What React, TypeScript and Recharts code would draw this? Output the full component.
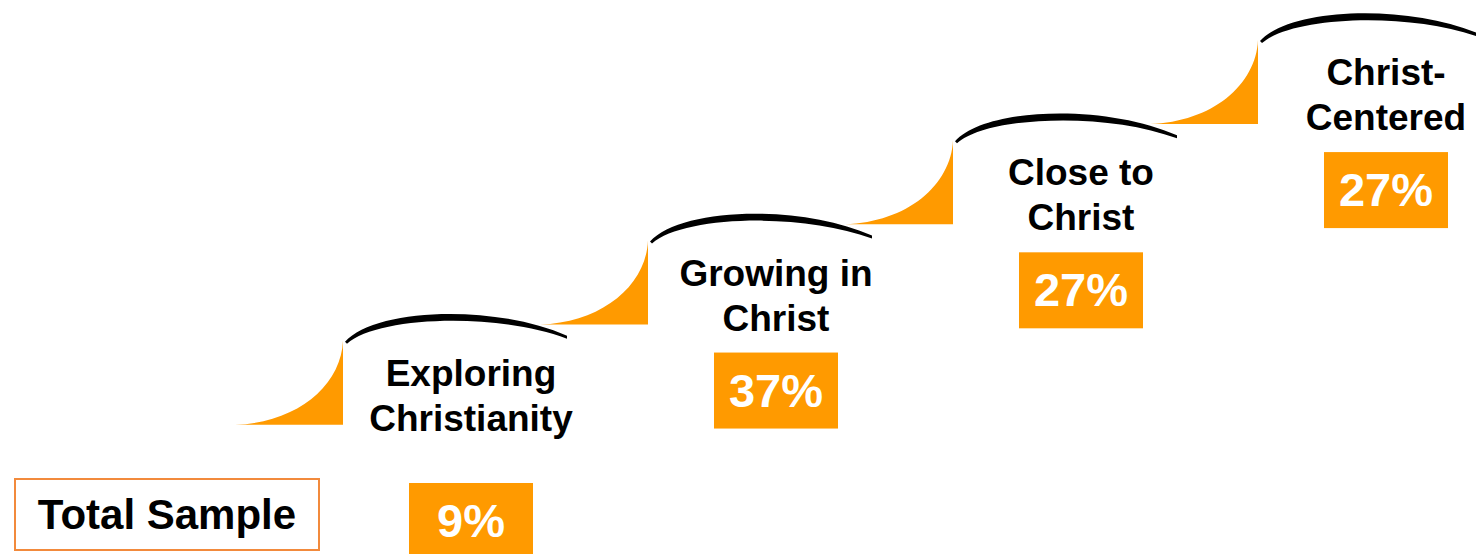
import { BarChart, Bar, XAxis, YAxis } from 'recharts'

const stageNames = ['Exploring\nChristianity', 'Growing in\nChrist', 'Close to\nChrist', 'Christ-\nCentered']
const stageLevels = [1, 2, 3, 4]
const stagePercents = [9, 37, 27, 27]
const rowLabel = 'Total Sample'

const ORANGE = '#FF9A00'
const FONT = '"Liberation Sans", Arial, Helvetica, sans-serif'

const data = stageNames.map((name, i) => ({
  name,
  level: stageLevels[i],
  pct: stagePercents[i],
}))

// one step of the staircase: orange riser, black tread arc, label and % box
function StepShape(props: any) {
  const { x, y, index, payload } = props
  const lines: string[] = payload.name.split('\n')
  const rampW = 108
  const rampH = 84
  const cx = x + 236
  const boxW = 124
  const boxH = 76
  // the first box sits on the "Total Sample" row
  const boxTop = index === 0 ? 483 : y + 112

  const ax = x + rampW + 2
  const ay = y + 1
  const arc =
    `M ${ax} ${ay} C ${ax + 30} ${ay - 34} ${ax + 150} ${ay - 38} ${ax + 222} ${ay - 6} ` +
    `L ${ax + 222} ${ay - 3} C ${ax + 150} ${ay - 30} ${ax + 32} ${ay - 25} ${ax + 2} ${ay + 2} Z`

  const ramp =
    `M ${x} ${y + rampH} C ${x + 62} ${y + rampH - 2} ${x + rampW - 2} ${y + 45} ${x + rampW} ${y} ` +
    `L ${x + rampW} ${y + rampH} Z`

  return (
    <g>
      <path d={ramp} fill={ORANGE} />
      <path d={arc} fill="#000" />
      {lines.map((ln, k) => (
        <text
          key={k}
          x={cx}
          y={y + 45 + k * 45}
          textAnchor="middle"
          fontFamily={FONT}
          fontWeight="bold"
          fontSize={37}
          fill="#000"
        >
          {ln}
        </text>
      ))}
      <rect x={cx - boxW / 2} y={boxTop} width={boxW} height={boxH} fill={ORANGE} />
      <text
        x={cx}
        y={boxTop + 54}
        textAnchor="middle"
        fontFamily={FONT}
        fontWeight="bold"
        fontSize={47}
        fill="#fff"
      >
        {payload.pct}%
      </text>
    </g>
  )
}

export default function App() {
  return (
    <div style={{ position: 'absolute', left: 0, top: 0, width: 1476, height: 554, background: '#fff' }}>
      <BarChart
        width={1476}
        height={554}
        data={data}
        margin={{ top: 0, right: 21, bottom: 113, left: 235 }}
        barCategoryGap={0}
      >
        <XAxis dataKey="name" hide />
        <YAxis hide domain={[0, 4.4]} />
        <Bar dataKey="level" shape={StepShape} isAnimationActive={false} />
      </BarChart>
      <div
        style={{
          position: 'absolute',
          left: 14,
          top: 478,
          width: 302,
          height: 69,
          border: '2px solid #F28A3C',
          display: 'flex',
          alignItems: 'center',
          justifyContent: 'center',
          fontFamily: FONT,
          fontWeight: 'bold',
          fontSize: 42,
          color: '#000',
          background: '#fff',
        }}
      >
        {rowLabel}
      </div>
    </div>
  )
}
